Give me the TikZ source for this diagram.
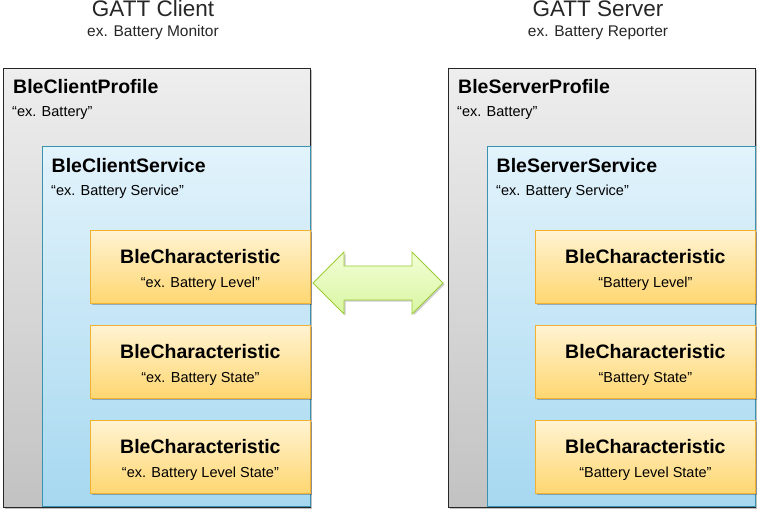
\documentclass[tikz,border=0pt]{standalone}
\usepackage{fontspec}
\setmainfont{Liberation Sans}
\usetikzlibrary{shadows}

\definecolor{profTop}{HTML}{EEEEEE}
\definecolor{profBot}{HTML}{C2C2C2}
\definecolor{servTop}{HTML}{E2F3FB}
\definecolor{servBot}{HTML}{A6D8F0}
\definecolor{servLine}{HTML}{3A93AE}
\definecolor{charTop}{HTML}{FFF3D2}
\definecolor{charBot}{HTML}{FFD771}
\definecolor{charLine}{HTML}{F2B130}
\definecolor{arrTop}{HTML}{F2FFD6}
\definecolor{arrBot}{HTML}{D9F5A2}
\definecolor{arrLine}{HTML}{9CCB35}

\begin{document}
\begin{tikzpicture}[x=1pt,y=-1pt,
  softshadow/.style={drop shadow={shadow xshift=1.5pt,shadow yshift=-1.5pt,opacity=0.25,fill=black}},
  profilebox/.style={draw=black!85,line width=0.9pt,top color=profTop,bottom color=profBot,
    minimum width=307pt,minimum height=439pt,anchor=north west,inner sep=0,softshadow},
  servicebox/.style={draw=servLine,line width=0.8pt,top color=servTop,bottom color=servBot,
    minimum width=268pt,minimum height=360pt,anchor=north west,inner sep=0},
  charbox/.style={draw=charLine,line width=0.8pt,top color=charTop,bottom color=charBot,
    minimum width=220pt,minimum height=73pt,anchor=north west,inner sep=0,softshadow},
  bigname/.style={font=\fontsize{19.5}{22}\selectfont\bfseries,inner sep=0},
  smallname/.style={font=\fontsize{14.5}{16}\selectfont,inner sep=0},
  headname/.style={font=\fontsize{22.5}{25}\selectfont,text=black!85,inner sep=0,anchor=base},
  headsub/.style={font=\fontsize{15.5}{17}\selectfont,text=black!85,inner sep=0,anchor=base},
  linkarrow/.style={draw=arrLine,line width=0.9pt,top color=arrTop,bottom color=arrBot,
    drop shadow={shadow xshift=1.5pt,shadow yshift=-1.5pt,opacity=0.2,fill=black}}
]
\useasboundingbox (0,0) rectangle (758,513);

% client side
\node[headname] (chead) at (153,17) {GATT Client};
\node[headsub] (csub) at (153,36.5) {ex. Battery Monitor};
\node[profilebox] (cprof) at (3,68) {};
\node[bigname,anchor=base west] (cproft) at (13,94) {BleClientProfile};
\node[smallname,anchor=base west] (cprofs) at (12,117) {“ex. Battery”};
\node[servicebox] (cserv) at (42,146) {};
\node[bigname,anchor=base west] (cservt) at (51.5,172.5) {BleClientService};
\node[smallname,anchor=base west] (cservs) at (51,195.5) {“ex. Battery Service”};
\node[charbox] (cch1) at (90,230) {};
\node[charbox] (cch2) at (90,325) {};
\node[charbox] (cch3) at (90,420) {};
\node[bigname,anchor=base] at ([yshift=3.5pt]cch1.center) {BleCharacteristic};
\node[smallname,anchor=base] at ([yshift=-20.5pt]cch1.center) {“ex. Battery Level”};
\node[bigname,anchor=base] at ([yshift=3.5pt]cch2.center) {BleCharacteristic};
\node[smallname,anchor=base] at ([yshift=-20.5pt]cch2.center) {“ex. Battery State”};
\node[bigname,anchor=base] at ([yshift=3.5pt]cch3.center) {BleCharacteristic};
\node[smallname,anchor=base] at ([yshift=-20.5pt]cch3.center) {“ex. Battery Level State”};

% server side
\node[headname] (shead) at (598,17) {GATT Server};
\node[headsub] (ssub) at (598,36.5) {ex. Battery Reporter};
\node[profilebox] (sprof) at (448,68) {};
\node[bigname,anchor=base west] (sproft) at (458,94) {BleServerProfile};
\node[smallname,anchor=base west] (sprofs) at (457,117) {“ex. Battery”};
\node[servicebox] (sserv) at (487,146) {};
\node[bigname,anchor=base west] (sservt) at (496.5,172.5) {BleServerService};
\node[smallname,anchor=base west] (sservs) at (496,195.5) {“ex. Battery Service”};
\node[charbox] (sch1) at (535,230) {};
\node[charbox] (sch2) at (535,325) {};
\node[charbox] (sch3) at (535,420) {};
\node[bigname,anchor=base] at ([yshift=3.5pt]sch1.center) {BleCharacteristic};
\node[smallname,anchor=base] at ([yshift=-20.5pt]sch1.center) {“Battery Level”};
\node[bigname,anchor=base] at ([yshift=3.5pt]sch2.center) {BleCharacteristic};
\node[smallname,anchor=base] at ([yshift=-20.5pt]sch2.center) {“Battery State”};
\node[bigname,anchor=base] at ([yshift=3.5pt]sch3.center) {BleCharacteristic};
\node[smallname,anchor=base] at ([yshift=-20.5pt]sch3.center) {“Battery Level State”};

% link between the two sides
\path[linkarrow] (313,283) -- (344,252) -- (344,266) -- (412,266) -- (412,252) -- (443,283)
  -- (412,314) -- (412,300) -- (344,300) -- (344,314) -- cycle;
\end{tikzpicture}
\end{document}
